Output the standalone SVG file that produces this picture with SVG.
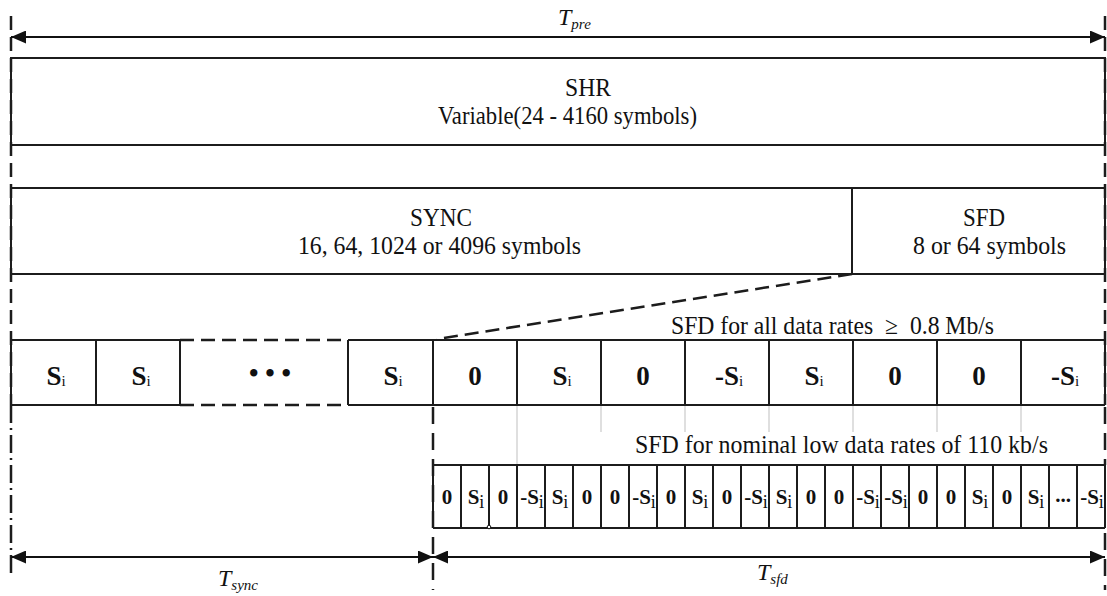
<svg xmlns="http://www.w3.org/2000/svg" width="1107" height="596" viewBox="0 0 1107 596">
  <style>
    .ln { fill: none; stroke: #1c1c1c; stroke-width: 2; }
    .dsh { fill: none; stroke: #1c1c1c; stroke-width: 2.5; stroke-dasharray: 14 7; }
    .dshv { fill: none; stroke: #1c1c1c; stroke-width: 2.5; stroke-dasharray: 17 9; }
    .dotdash { fill: none; stroke: #1c1c1c; stroke-width: 2.5; stroke-dasharray: 18 5 2 5; }
    .guide { fill: none; stroke: #d4d4d4; stroke-width: 1.5; }
    .arr { fill: none; stroke: #111; stroke-width: 2; marker-start: url(#head); marker-end: url(#head); }
    text { font-family: "Liberation Serif", "Times New Roman", serif; fill: #111; }
    .lab { font-size: 25px; }
    .note { font-size: 25px; }
    .sym { font-size: 27px; font-weight: bold; text-anchor: middle; }
    .sub { font-size: 15px; font-weight: normal; }
    .sym2 { font-size: 21px; font-weight: bold; text-anchor: middle; }
    .sub2 { font-size: 18px; font-weight: normal; }
    .dim { font-size: 24px; font-style: italic; }
    .dsub { font-size: 15px; }
  </style>
  <defs>
    <marker id="head" markerUnits="userSpaceOnUse" markerWidth="15" markerHeight="13" refX="15" refY="6.5" orient="auto-start-reverse">
      <path d="M0,0 L15,6.5 L0,13 z" fill="#111"/>
    </marker>
  </defs>

  <rect width="1107" height="596" fill="#fff"/>

  <!-- boundary guides -->
  <g id="boundaries">
    <line class="dsh" x1="11" y1="16" x2="11" y2="405"/>
    <line class="dsh" x1="1105" y1="16" x2="1105" y2="405"/>
    <line class="dotdash" x1="11" y1="405" x2="11" y2="578"/>
    <line class="dshv" x1="433" y1="407" x2="433" y2="590"/>
    <line class="dshv" x1="1105" y1="407" x2="1105" y2="465"/>
    <line class="dshv" x1="1105" y1="533" x2="1105" y2="590"/>
    <line class="guide" x1="517" y1="405" x2="517" y2="465"/>
    <line class="guide" x1="601" y1="405" x2="601" y2="432"/>
    <line class="guide" x1="685" y1="405" x2="685" y2="432"/>
    <line class="guide" x1="769" y1="405" x2="769" y2="432"/>
    <line class="guide" x1="853" y1="405" x2="853" y2="432"/>
    <line class="guide" x1="937" y1="405" x2="937" y2="432"/>
    <line class="guide" x1="1021" y1="405" x2="1021" y2="432"/>
  </g>

  <!-- overall preamble span -->
  <g id="t-pre">
    <line class="arr" x1="11" y1="37" x2="1105" y2="37"/>
    <text class="dim" x="558" y="25">T<tspan class="dsub" dy="4">pre</tspan></text>
  </g>

  <g id="shr">
    <rect class="ln" x="11" y="58" width="1094" height="87"/>
    <text class="lab" x="565" y="96" textLength="46" lengthAdjust="spacingAndGlyphs">SHR</text>
    <text class="lab" x="438" y="124" textLength="259" lengthAdjust="spacingAndGlyphs">Variable(24 - 4160 symbols)</text>
  </g>

  <g id="sync">
    <rect class="ln" x="11" y="188" width="841" height="86"/>
    <text class="lab" x="410" y="226" textLength="62" lengthAdjust="spacingAndGlyphs">SYNC</text>
    <text class="lab" x="298" y="254" textLength="283" lengthAdjust="spacingAndGlyphs">16, 64, 1024 or 4096 symbols</text>
  </g>

  <g id="sfd">
    <rect class="ln" x="852" y="188" width="253" height="86"/>
    <text class="lab" x="963" y="226" textLength="42" lengthAdjust="spacingAndGlyphs">SFD</text>
    <text class="lab" x="913" y="254" textLength="153" lengthAdjust="spacingAndGlyphs">8 or 64 symbols</text>
  </g>

  <!-- expansion of the SFD field -->
  <g id="connectors">
    <line class="dsh" x1="852" y1="274" x2="437" y2="339"/>
  </g>

  <!-- repeated sync symbols -->
  <g id="sync-symbols">
    <path class="ln" d="M11,340 H180 M348,340 H433 M11,405 H180 M348,405 H433"/>
    <path class="dsh" d="M180,340 H348 M180,405 H348"/>
    <path class="ln" d="M11,340 V405 M96,340 V405 M180,340 V405 M348,340 V405"/>
    <text class="sym" x="56" y="385">S<tspan class="sub" dy="1">i</tspan></text>
    <text class="sym" x="141" y="385">S<tspan class="sub" dy="1">i</tspan></text>
    <text class="sym" x="270" y="382" font-size="22">• • •</text>
    <text class="sym" x="393" y="385">S<tspan class="sub" dy="1">i</tspan></text>
  </g>

  <!-- SFD for data rates of 0.8 Mb/s and above -->
  <g id="sfd-high-rate">
    <text class="note" x="671" y="334" textLength="323" lengthAdjust="spacingAndGlyphs">SFD for all data rates &#160;≥&#160; 0.8 Mb/s</text>
    <path class="ln" d="M433,340 H1105 M433,405 H1105"/>
    <path class="ln" d="M433,340 V405 M517,340 V405 M601,340 V405 M685,340 V405 M769,340 V405 M853,340 V405 M937,340 V405 M1021,340 V405 M1105,340 V405"/>
    <text class="sym" x="475" y="385">0</text>
    <text class="sym" x="562" y="385">S<tspan class="sub" dy="1">i</tspan></text>
    <text class="sym" x="643" y="385">0</text>
    <text class="sym" x="729" y="385">-S<tspan class="sub" dy="1">i</tspan></text>
    <text class="sym" x="814" y="385">S<tspan class="sub" dy="1">i</tspan></text>
    <text class="sym" x="895" y="385">0</text>
    <text class="sym" x="979" y="385">0</text>
    <text class="sym" x="1065" y="385">-S<tspan class="sub" dy="1">i</tspan></text>
  </g>

  <!-- SFD for the nominal 110 kb/s rate -->
  <g id="sfd-low-rate">
    <text class="note" x="635" y="453" textLength="413" lengthAdjust="spacingAndGlyphs">SFD for nominal low data rates of 110 kb/s</text>
    <path class="ln" d="M433,465 H1105 M433,528 H1105"/>
    <path class="ln" d="M433,465 V528 M461,465 V528 M489,465 V528 M517,465 V528 M545,465 V528 M573,465 V528 M601,465 V528 M629,465 V528 M657,465 V528 M685,465 V528 M713,465 V528 M741,465 V528 M769,465 V528 M797,465 V528 M825,465 V528 M853,465 V528 M881,465 V528 M909,465 V528 M937,465 V528 M965,465 V528 M993,465 V528 M1021,465 V528 M1049,465 V528 M1077,465 V528 M1105,465 V528"/>
    <circle cx="489" cy="527" r="1.8" fill="#fff" stroke="#111" stroke-width="1"/>
    <text class="sym2" x="447" y="504">0</text>
    <text class="sym2" x="476" y="504">S<tspan class="sub2" dy="4">i</tspan></text>
    <text class="sym2" x="503" y="504">0</text>
    <text class="sym2" x="532" y="504">-S<tspan class="sub2" dy="4">i</tspan></text>
    <text class="sym2" x="560" y="504">S<tspan class="sub2" dy="4">i</tspan></text>
    <text class="sym2" x="587" y="504">0</text>
    <text class="sym2" x="615" y="504">0</text>
    <text class="sym2" x="644" y="504">-S<tspan class="sub2" dy="4">i</tspan></text>
    <text class="sym2" x="671" y="504">0</text>
    <text class="sym2" x="700" y="504">S<tspan class="sub2" dy="4">i</tspan></text>
    <text class="sym2" x="727" y="504">0</text>
    <text class="sym2" x="756" y="504">-S<tspan class="sub2" dy="4">i</tspan></text>
    <text class="sym2" x="784" y="504">S<tspan class="sub2" dy="4">i</tspan></text>
    <text class="sym2" x="811" y="504">0</text>
    <text class="sym2" x="839" y="504">0</text>
    <text class="sym2" x="868" y="504">-S<tspan class="sub2" dy="4">i</tspan></text>
    <text class="sym2" x="896" y="504">-S<tspan class="sub2" dy="4">i</tspan></text>
    <text class="sym2" x="923" y="504">0</text>
    <text class="sym2" x="951" y="504">0</text>
    <text class="sym2" x="980" y="504">S<tspan class="sub2" dy="4">i</tspan></text>
    <text class="sym2" x="1007" y="504">0</text>
    <text class="sym2" x="1036" y="504">S<tspan class="sub2" dy="4">i</tspan></text>
    <text class="sym2" x="1063" y="502" font-size="14">...</text>
    <text class="sym2" x="1092" y="504">-S<tspan class="sub2" dy="4">i</tspan></text>
  </g>

  <!-- duration spans -->
  <g id="t-sync">
    <line class="arr" x1="11" y1="557" x2="433" y2="557"/>
    <text class="dim" x="218" y="586">T<tspan class="dsub" dy="4">sync</tspan></text>
  </g>
  <g id="t-sfd">
    <line class="arr" x1="433" y1="557" x2="1105" y2="557"/>
    <text class="dim" x="757" y="580">T<tspan class="dsub" dy="4">sfd</tspan></text>
  </g>
</svg>
